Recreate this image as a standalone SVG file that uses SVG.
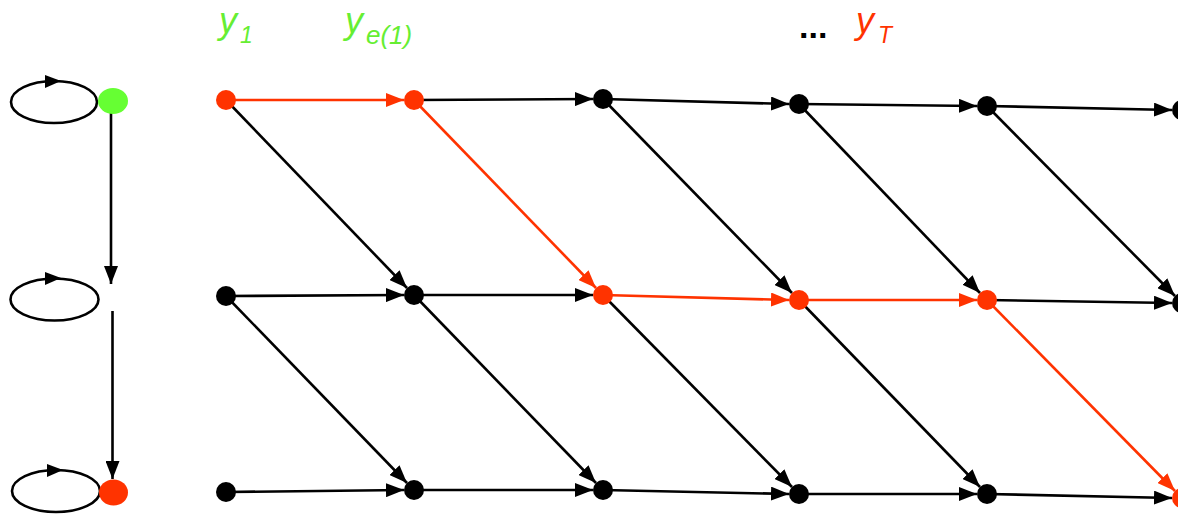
<svg xmlns="http://www.w3.org/2000/svg" width="1178" height="514" viewBox="0 0 1178 514">
<style>
.e{stroke:#000;stroke-width:2.6;fill:none}
.er{stroke:#ff3300;stroke-width:2.6;fill:none}
.n{fill:#000}
.nr{fill:#ff3300}
.loop{fill:none;stroke:#000;stroke-width:2.6}
.lbl{font-family:"Liberation Sans",Arial,sans-serif;font-style:italic}
</style>
<defs>
<marker id="ab" viewBox="0 0 18 14" refX="18" refY="7" markerWidth="18" markerHeight="14" markerUnits="userSpaceOnUse" orient="auto"><path d="M0,0 L18,7 L0,14 z" fill="#000"/></marker>
<marker id="ar" viewBox="0 0 18 14" refX="18" refY="7" markerWidth="18" markerHeight="14" markerUnits="userSpaceOnUse" orient="auto"><path d="M0,0 L18,7 L0,14 z" fill="#ff3300"/></marker>
</defs>
<g id="labels">
<text class="lbl" x="219" y="33" font-size="36" fill="#66ee33">y<tspan x="240" y="43" font-size="23">1</tspan></text>
<text class="lbl" x="345" y="33" font-size="36" fill="#66ee33">y<tspan x="366" y="44" font-size="26">e(1)</tspan></text>
<text x="799" y="38" font-family="Liberation Sans,Arial,sans-serif" font-weight="bold" font-size="34" fill="#000">...</text>
<text class="lbl" x="856" y="33" font-size="36" fill="#ff3300">y<tspan x="878" y="43" font-size="23">T</tspan></text>
</g>
<g id="connectors">
<line class="e" x1="111" y1="112" x2="111" y2="284" marker-end="url(#ab)"/>
<line class="e" x1="112.5" y1="311" x2="112.5" y2="479" marker-end="url(#ab)"/>
<line class="er" x1="226" y1="100" x2="404" y2="100" marker-end="url(#ar)"/>
<line class="e" x1="414" y1="100" x2="593" y2="99" marker-end="url(#ab)"/>
<line class="e" x1="603" y1="99" x2="789" y2="104" marker-end="url(#ab)"/>
<line class="e" x1="799" y1="104" x2="977" y2="106" marker-end="url(#ab)"/>
<line class="e" x1="987" y1="106" x2="1172" y2="110" marker-end="url(#ab)"/>
<line class="e" x1="226" y1="296" x2="404" y2="295" marker-end="url(#ab)"/>
<line class="e" x1="414" y1="295" x2="593" y2="295" marker-end="url(#ab)"/>
<line class="er" x1="603" y1="295" x2="789" y2="300" marker-end="url(#ar)"/>
<line class="er" x1="799" y1="300" x2="977" y2="300" marker-end="url(#ar)"/>
<line class="e" x1="987" y1="300" x2="1172" y2="303" marker-end="url(#ab)"/>
<line class="e" x1="226" y1="492" x2="404" y2="490" marker-end="url(#ab)"/>
<line class="e" x1="414" y1="490" x2="593" y2="490" marker-end="url(#ab)"/>
<line class="e" x1="603" y1="490" x2="789" y2="494" marker-end="url(#ab)"/>
<line class="e" x1="799" y1="494" x2="977" y2="494" marker-end="url(#ab)"/>
<line class="e" x1="987" y1="494" x2="1172" y2="498" marker-end="url(#ab)"/>
<line class="e" x1="226" y1="100" x2="407" y2="288" marker-end="url(#ab)"/>
<line class="er" x1="414" y1="100" x2="596" y2="288" marker-end="url(#ar)"/>
<line class="e" x1="603" y1="99" x2="792" y2="293" marker-end="url(#ab)"/>
<line class="e" x1="799" y1="104" x2="980" y2="293" marker-end="url(#ab)"/>
<line class="e" x1="987" y1="106" x2="1175" y2="296" marker-end="url(#ab)"/>
<line class="e" x1="226" y1="296" x2="407" y2="483" marker-end="url(#ab)"/>
<line class="e" x1="414" y1="295" x2="596" y2="483" marker-end="url(#ab)"/>
<line class="e" x1="603" y1="295" x2="792" y2="487" marker-end="url(#ab)"/>
<line class="e" x1="799" y1="300" x2="980" y2="487" marker-end="url(#ab)"/>
<line class="er" x1="987" y1="300" x2="1175" y2="491" marker-end="url(#ar)"/>
</g>
<g id="loop1"><ellipse class="loop" cx="54" cy="102" rx="43" ry="21"/><polygon points="45,75 61,81 45,88" fill="#000"/></g>
<g id="loop2"><ellipse class="loop" cx="54.5" cy="299.5" rx="44" ry="21"/><polygon points="45,272 61,278 45,285" fill="#000"/></g>
<g id="loop3"><ellipse class="loop" cx="56" cy="491" rx="44" ry="21"/><polygon points="47,464 63,470 47,477" fill="#000"/></g>
<g id="state-green"><ellipse cx="113" cy="101" rx="15" ry="13" fill="#66ff33"/></g>
<g id="state-red"><ellipse cx="113.5" cy="492.5" rx="14.5" ry="13" fill="#ff3300"/></g>
<g id="a0"><circle class="nr" cx="226" cy="100" r="10"/></g>
<g id="a1"><circle class="nr" cx="414" cy="100" r="10"/></g>
<g id="a2"><circle class="n" cx="603" cy="99" r="10"/></g>
<g id="a3"><circle class="n" cx="799" cy="104" r="10"/></g>
<g id="a4"><circle class="n" cx="987" cy="106" r="10"/></g>
<g id="a5"><circle class="n" cx="1182" cy="110" r="10"/></g>
<g id="b0"><circle class="n" cx="226" cy="296" r="10"/></g>
<g id="b1"><circle class="n" cx="414" cy="295" r="10"/></g>
<g id="b2"><circle class="nr" cx="603" cy="295" r="10"/></g>
<g id="b3"><circle class="nr" cx="799" cy="300" r="10"/></g>
<g id="b4"><circle class="nr" cx="987" cy="300" r="10"/></g>
<g id="b5"><circle class="n" cx="1182" cy="303" r="10"/></g>
<g id="c0"><circle class="n" cx="226" cy="492" r="10"/></g>
<g id="c1"><circle class="n" cx="414" cy="490" r="10"/></g>
<g id="c2"><circle class="n" cx="603" cy="490" r="10"/></g>
<g id="c3"><circle class="n" cx="799" cy="494" r="10"/></g>
<g id="c4"><circle class="n" cx="987" cy="494" r="10"/></g>
<g id="c5"><circle class="nr" cx="1182" cy="498" r="10"/></g>
</svg>
